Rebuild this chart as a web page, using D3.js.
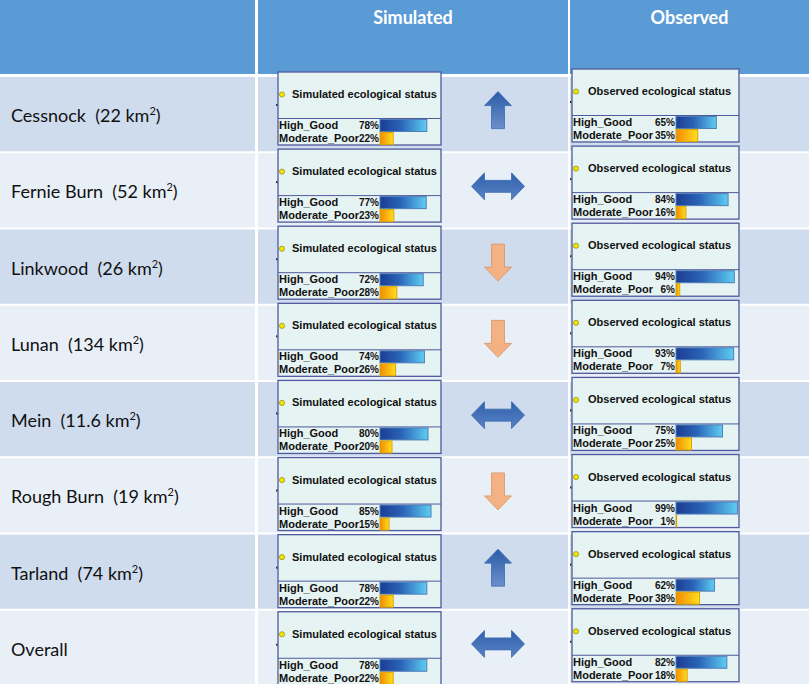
<!DOCTYPE html>
<html>
<head>
<meta charset="utf-8">
<title>Simulated vs observed ecological status</title>
<script src="https://cdn.jsdelivr.net/npm/d3@7"></script>
<style>
  body { margin: 0; background: #fff; }
  text { white-space: pre; }
</style>
</head>
<body>
<div id="chart"></div>
<script>

// catchments, area (km2) and status shares
var catchments = ["Cessnock", "Fernie Burn", "Linkwood", "Lunan", "Mein", "Rough Burn", "Tarland", "Overall"];
var areas = ["22", "52", "26", "134", "11.6", "19", "74", null];
var simHighGood = [78, 77, 72, 74, 80, 85, 78, 78];
var simModPoor  = [22, 23, 28, 26, 20, 15, 22, 22];
var obsHighGood = [65, 84, 94, 93, 75, 99, 62, 82];
var obsModPoor  = [35, 16, 6, 7, 25, 1, 38, 18];
var change = ["up", "both", "down", "down", "both", "down", "up", "both"];
var headers = ["", "Simulated", "Observed"];
var classes = ["High_Good", "Moderate_Poor"];

var width = 809, height = 684;
var headH = 74, gap = 2;
var boxFont = "'Liberation Sans', Arimo, Arial, sans-serif";

var svg = d3.select("#chart").append("svg")
    .attr("width", width)
    .attr("height", height)
    .style("display", "block");

var defs = svg.append("defs");

function grad(id, stops, vertical) {
    var g = defs.append("linearGradient").attr("id", id)
        .attr("x1", 0).attr("y1", 0)
        .attr("x2", vertical ? 0 : 1).attr("y2", vertical ? 1 : 0);
    stops.forEach(function (s) {
        g.append("stop").attr("offset", s[0]).attr("stop-color", s[1]);
    });
}
grad("gBlue", [[0, "#1c3d92"], [0.45, "#2a64b8"], [1, "#5fcdf2"]]);
grad("gOrange", [[0, "#f28a05"], [1, "#ffdf1c"]]);
grad("gArrowUp", [[0, "#2c5ca8"], [1, "#6b8fca"]], true);
grad("gArrowBoth", [[0, "#2f60ad"], [1, "#5a83c4"]], true);

// columns of the table
var colX = d3.scaleOrdinal().domain(headers).range([0, 258, 570]);
var colW = d3.scaleOrdinal().domain(headers).range([255, 310, 239]);

// rows
var y = d3.scaleBand()
    .domain(catchments)
    .range([headH + 3, headH + 3 + 76 * catchments.length])
    .paddingInner(gap / 76);

// header cells
svg.selectAll(".head")
    .data(headers)
    .enter().append("rect")
    .attr("x", d => colX(d))
    .attr("y", 0)
    .attr("width", d => colW(d))
    .attr("height", headH)
    .attr("fill", "#5b9bd5");

svg.selectAll(".headText")
    .data(headers.filter(d => d))
    .enter().append("text")
    .attr("x", d => colX(d) + colW(d) / 2)
    .attr("y", 24)
    .attr("text-anchor", "middle")
    .attr("font-family", "Lato, 'Open Sans', sans-serif")
    .attr("font-weight", "bold")
    .attr("font-size", 18)
    .attr("fill", "#fff")
    .text(d => d);

// body cells
var rows = svg.selectAll(".row")
    .data(catchments)
    .enter().append("g")
    .attr("class", "row")
    .attr("transform", d => "translate(0," + y(d) + ")");

rows.selectAll("rect")
    .data((d, i) => headers.map(h => ({ col: h, i: i })))
    .enter().append("rect")
    .attr("x", d => colX(d.col))
    .attr("width", d => colW(d.col))
    .attr("height", (d) => d.i === catchments.length - 1 ? height - y(catchments[d.i]) : y.bandwidth())
    .attr("fill", d => d.i % 2 === 0 ? "#cfdcee" : "#e9eff7");

var label = rows.append("text")
    .attr("x", 11)
    .attr("y", y.bandwidth() / 2 + 8)
    .attr("font-family", "Lato, 'Open Sans', sans-serif")
    .attr("font-size", 18)
    .attr("fill", "#111");
label.append("tspan").text((d, i) => areas[i] ? d + "  (" + areas[i] + " km" : d);
label.append("tspan")
    .attr("font-size", 11)
    .attr("dy", -7)
    .text((d, i) => areas[i] ? "2" : "");
label.append("tspan")
    .attr("dy", 7)
    .text((d, i) => areas[i] ? ")" : "");

// change arrows in the simulated column
var arrowX = 498;
function arrowPath(kind) {
    if (kind === "both") {
        var w = 53, h = 27, sh = 12, hl = 13;
        return "M" + (-w / 2) + ",0L" + (-w / 2 + hl) + "," + (-h / 2) + "L" + (-w / 2 + hl) + "," + (-sh / 2) +
            "L" + (w / 2 - hl) + "," + (-sh / 2) + "L" + (w / 2 - hl) + "," + (-h / 2) + "L" + (w / 2) + ",0" +
            "L" + (w / 2 - hl) + "," + (h / 2) + "L" + (w / 2 - hl) + "," + (sh / 2) +
            "L" + (-w / 2 + hl) + "," + (sh / 2) + "L" + (-w / 2 + hl) + "," + (h / 2) + "Z";
    }
    var aw = 27, ah = 37, sw = 13, hh = 14;
    return "M0," + (-ah / 2) + "L" + (aw / 2) + "," + (-ah / 2 + hh) + "L" + (sw / 2) + "," + (-ah / 2 + hh) +
        "L" + (sw / 2) + "," + (ah / 2) + "L" + (-sw / 2) + "," + (ah / 2) + "L" + (-sw / 2) + "," + (-ah / 2 + hh) +
        "L" + (-aw / 2) + "," + (-ah / 2 + hh) + "Z";
}

rows.append("path")
    .attr("d", (d, i) => arrowPath(change[i]))
    .attr("transform", (d, i) => "translate(" + arrowX + "," + (y.bandwidth() / 2 - 4) + ")" +
        (change[i] === "down" ? " rotate(180)" : ""))
    .attr("fill", (d, i) => change[i] === "down" ? "#f4b183" : change[i] === "up" ? "url(#gArrowUp)" : "url(#gArrowBoth)")
    .attr("stroke", (d, i) => change[i] === "down" ? "#d4956a" : "#3e6cb0")
    .attr("stroke-width", 0.8);

// little status panels (simulated and observed)
var panels = [
    { title: "Simulated ecological status", left: 278, w: 163, barX: 102, barMax: 60, dy: 0, hg: simHighGood, mp: simModPoor },
    { title: "Observed ecological status", left: 572, w: 167, barX: 104, barMax: 62, dy: -3, hg: obsHighGood, mp: obsModPoor }
];

var boxTop = d3.scaleLinear()
    .domain([0, catchments.length - 1])
    .range([y(catchments[0]) - 5, y(catchments[catchments.length - 1]) + 1]);

panels.forEach(function (p) {
    var bx = d3.scaleLinear().domain([0, 100]).range([0, p.barMax]);

    var box = svg.selectAll(null)
        .data(catchments)
        .enter().append("g")
        .attr("transform", (d, i) => "translate(" + p.left + "," + (boxTop(i) + p.dy) + ")");

    box.append("rect")
        .attr("width", p.w)
        .attr("height", 73)
        .attr("fill", "#e6f3f3")
        .attr("stroke", "#4f5a9c")
        .attr("stroke-width", 1.3);

    box.append("line")
        .attr("x1", 0).attr("x2", p.w)
        .attr("y1", 46.5).attr("y2", 46.5)
        .attr("stroke", "#4f5a9c")
        .attr("stroke-width", 1);

    // tiny mark on the left border
    box.append("rect")
        .attr("x", -2).attr("y", 32)
        .attr("width", 1.5).attr("height", 2)
        .attr("fill", "#333");

    box.append("circle")
        .attr("cx", 4).attr("cy", 22.5)
        .attr("r", 2.6)
        .attr("fill", "#f5e400")
        .attr("stroke", "#8a8a20")
        .attr("stroke-width", 0.7);

    box.append("text")
        .attr("x", p.title.charAt(0) === "S" ? 14 : 16)
        .attr("y", 26)
        .attr("font-family", boxFont)
        .attr("font-weight", "bold")
        .attr("font-size", 11)
        .attr("fill", "#111")
        .text(p.title);

    classes.forEach(function (c, k) {
        var vals = k === 0 ? p.hg : p.mp;
        var by = 47.5 + k * 13;

        box.append("text")
            .attr("x", 1)
            .attr("y", by + 9.5)
            .attr("font-family", boxFont)
            .attr("font-weight", "bold")
            .attr("font-size", 11)
            .attr("fill", "#111")
            .text(c);

        box.append("text")
            .attr("x", p.barX - 1)
            .attr("y", by + 9.5)
            .attr("text-anchor", "end")
            .attr("font-family", boxFont)
            .attr("font-weight", "bold")
            .attr("font-size", 10)
            .attr("fill", "#111")
            .text((d, i) => vals[i] + "%");

        box.append("rect")
            .attr("x", p.barX)
            .attr("y", by)
            .attr("width", (d, i) => bx(vals[i]))
            .attr("height", 12)
            .attr("fill", k === 0 ? "url(#gBlue)" : "url(#gOrange)")
            .attr("stroke", k === 0 ? "#4f7db8" : "#dca400")
            .attr("stroke-width", 1);
    });
});

</script>
</body>
</html>
